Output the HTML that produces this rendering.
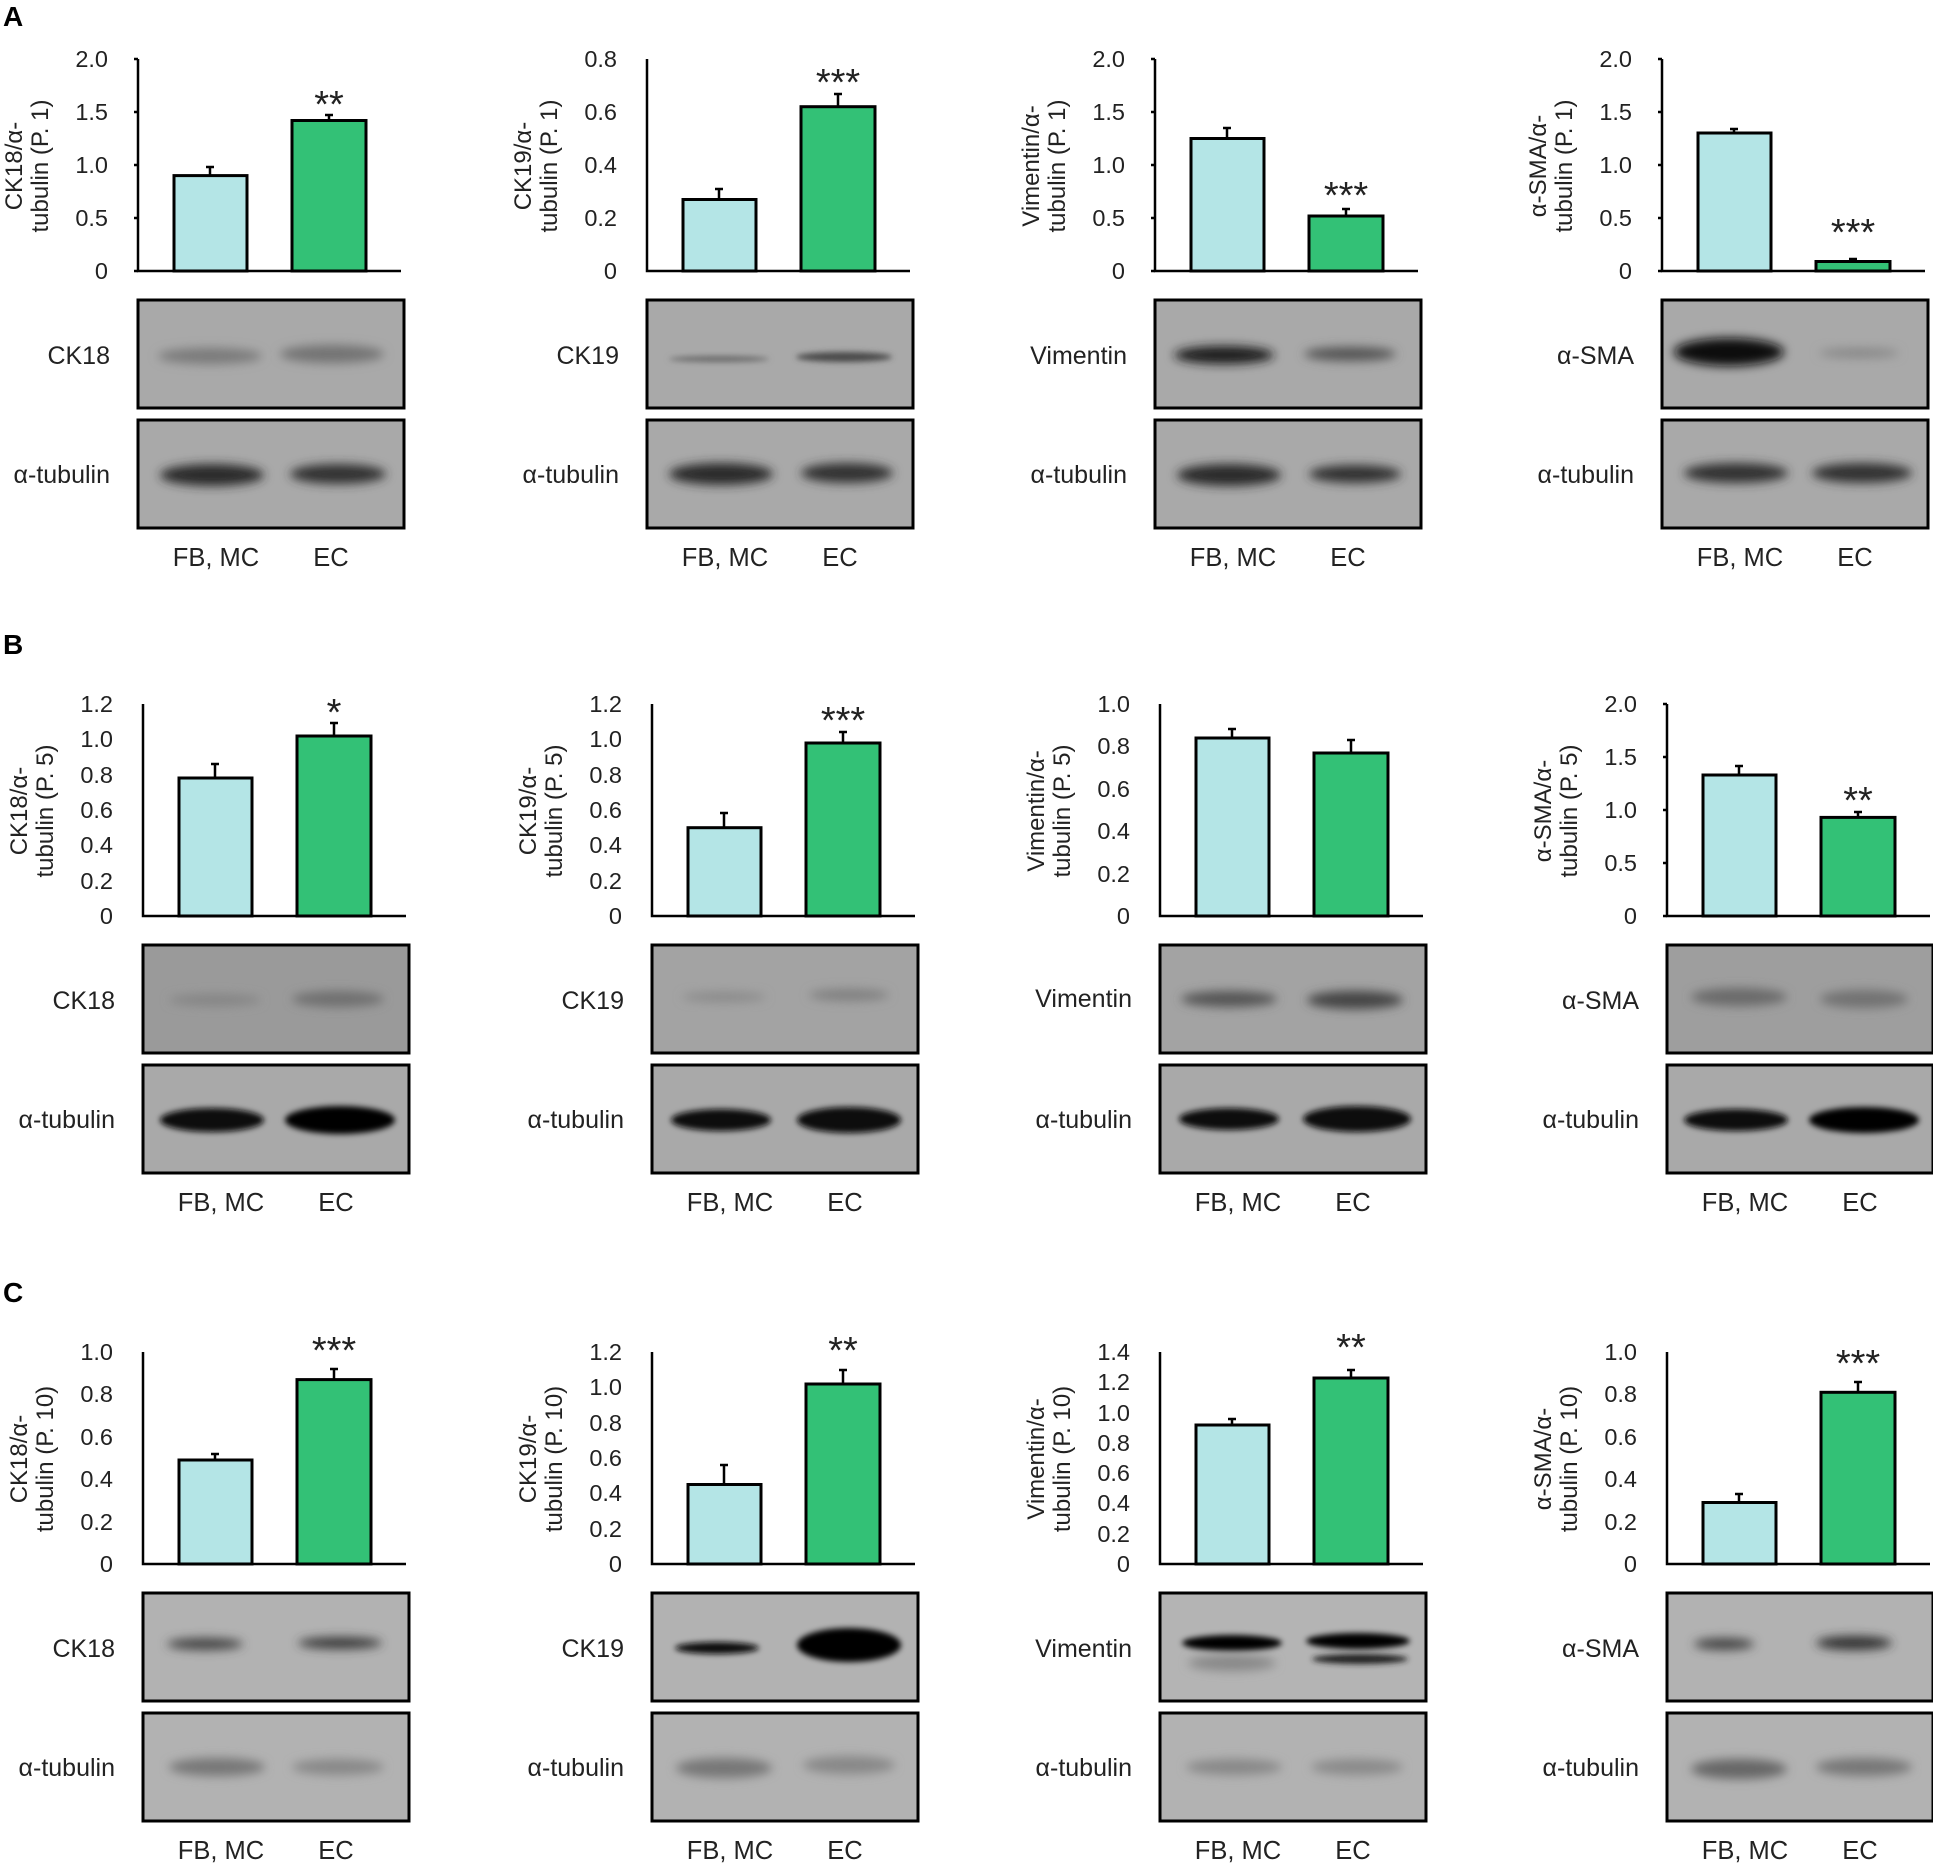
<!DOCTYPE html>
<html><head><meta charset="utf-8"><style>
html,body{margin:0;padding:0;background:#fff;}
svg{display:block;font-family:"Liberation Sans",Arial,sans-serif;}
.tk{font-size:23.5px;text-anchor:end;fill:#222}
.yt{font-size:24px;text-anchor:middle;fill:#222}
.lb{font-size:25px;text-anchor:end;fill:#222}
.xl{font-size:25.5px;text-anchor:middle;fill:#222}
.st{font-size:38px;text-anchor:middle;fill:#222}
.ax{stroke:#000;stroke-width:2.5;fill:none}
.b1{fill:#b4e5e6;stroke:#000;stroke-width:3}
.b2{fill:#33c176;stroke:#000;stroke-width:3}
.eb{stroke:#000;stroke-width:2.5}
.bl{stroke:#000;stroke-width:3}
.let{font-size:28px;font-weight:bold;fill:#000}
</style></head><body>
<svg width="1933" height="1863" viewBox="0 0 1933 1863" xmlns="http://www.w3.org/2000/svg">
<defs>
<filter id="bf" x="-20%" y="-100%" width="140%" height="300%"><feGaussianBlur stdDeviation="5"/></filter>
<filter id="bf2" x="-20%" y="-100%" width="140%" height="300%"><feGaussianBlur stdDeviation="3"/></filter>
<g id="frame">
<path class="ax" d="M138,59 V271 H401"/>
<text class="xl" x="216" y="566">FB, MC</text>
<text class="xl" x="331" y="566">EC</text>
<text class="lb" x="110" y="483">α-tubulin</text>
</g>
<g id="t2"><path class="eb" d="M134,271H138M134,218H138M134,165H138M134,112H138M134,59H138"/>
<text class="tk" x="108" y="279">0</text><text class="tk" x="108" y="226">0.5</text><text class="tk" x="108" y="173">1.0</text><text class="tk" x="108" y="120">1.5</text><text class="tk" x="108" y="67">2.0</text></g>
<g id="t08"><text class="tk" x="108" y="279">0</text><text class="tk" x="108" y="226">0.2</text><text class="tk" x="108" y="173">0.4</text><text class="tk" x="108" y="120">0.6</text><text class="tk" x="108" y="67">0.8</text></g>
<g id="t12"><text class="tk" x="108" y="279">0</text><text class="tk" x="108" y="244">0.2</text><text class="tk" x="108" y="208">0.4</text><text class="tk" x="108" y="173">0.6</text><text class="tk" x="108" y="138">0.8</text><text class="tk" x="108" y="102">1.0</text><text class="tk" x="108" y="67">1.2</text></g>
<g id="t10"><text class="tk" x="108" y="279">0</text><text class="tk" x="108" y="237">0.2</text><text class="tk" x="108" y="194">0.4</text><text class="tk" x="108" y="152">0.6</text><text class="tk" x="108" y="109">0.8</text><text class="tk" x="108" y="67">1.0</text></g>
<g id="t14"><text class="tk" x="108" y="279">0</text><text class="tk" x="108" y="249">0.2</text><text class="tk" x="108" y="218">0.4</text><text class="tk" x="108" y="188">0.6</text><text class="tk" x="108" y="158">0.8</text><text class="tk" x="108" y="128">1.0</text><text class="tk" x="108" y="97">1.2</text><text class="tk" x="108" y="67">1.4</text></g>
</defs>
<text class="let" x="3" y="26">A</text>
<text class="let" x="3" y="654">B</text>
<text class="let" x="3" y="1302">C</text>

<!-- ROW A -->
<g transform="translate(0,0)">
<use href="#frame"/><use href="#t2"/>
<g transform="translate(38,166) rotate(-90)"><text class="yt" y="-16">CK18/α-</text><text class="yt" y="10">tubulin (P. 1)</text></g>
<path class="eb" d="M210,176V167M206,167H214M329,121V115M325,115H333"/>
<rect class="b1" x="174" y="175.6" width="73" height="95.4"/><rect class="b2" x="292" y="120.5" width="74" height="150.5"/>
<text class="st" x="329" y="117">**</text>
<rect class="bl" x="138" y="300" width="266" height="108" fill="#a9a9a9"/>
<ellipse cx="210" cy="356" rx="52" ry="8" fill="#7a7a7a" filter="url(#bf)"/><ellipse cx="332" cy="354" rx="52" ry="9" fill="#737373" filter="url(#bf)"/>
<rect class="bl" x="138" y="420" width="266" height="108" fill="#a9a9a9"/>
<ellipse cx="212" cy="475" rx="52" ry="11" fill="#2a2a2a" filter="url(#bf)"/><ellipse cx="338" cy="474" rx="48" ry="10" fill="#333" filter="url(#bf)"/>
<text class="lb" x="110" y="364">CK18</text>
</g>
<g transform="translate(509,0)">
<use href="#frame"/><use href="#t08"/>
<g transform="translate(38,166) rotate(-90)"><text class="yt" y="-16">CK19/α-</text><text class="yt" y="10">tubulin (P. 1)</text></g>
<path class="eb" d="M210,199V189M206,189H214M329,107V94M325,94H333"/>
<rect class="b1" x="174" y="199.5" width="73" height="71.5"/><rect class="b2" x="292" y="106.7" width="74" height="164.3"/>
<text class="st" x="329" y="95">***</text>
<rect class="bl" x="138" y="300" width="266" height="108" fill="#a9a9a9"/>
<ellipse cx="210" cy="359" rx="50" ry="3" fill="#6a6a6a" filter="url(#bf2)"/><ellipse cx="335" cy="357" rx="48" ry="5" fill="#4a4a4a" filter="url(#bf2)"/>
<rect class="bl" x="138" y="420" width="266" height="108" fill="#a9a9a9"/>
<ellipse cx="212" cy="474" rx="52" ry="11" fill="#2a2a2a" filter="url(#bf)"/><ellipse cx="338" cy="473" rx="46" ry="10" fill="#333" filter="url(#bf)"/>
<text class="lb" x="110" y="364">CK19</text>
</g>
<g transform="translate(1017,0)">
<use href="#frame"/><use href="#t2"/>
<g transform="translate(38,166) rotate(-90)"><text class="yt" y="-16">Vimentin/α-</text><text class="yt" y="10">tubulin (P. 1)</text></g>
<path class="eb" d="M210,139V128M206,128H214M329,216V209M325,209H333"/>
<rect class="b1" x="174" y="138.5" width="73" height="132.5"/><rect class="b2" x="292" y="216" width="74" height="55"/>
<text class="st" x="329" y="208">***</text>
<rect class="bl" x="138" y="300" width="266" height="108" fill="#a9a9a9"/>
<ellipse cx="207" cy="355" rx="50" ry="9" fill="#1e1e1e" filter="url(#bf)"/><ellipse cx="333" cy="354" rx="46" ry="7" fill="#555" filter="url(#bf)"/>
<rect class="bl" x="138" y="420" width="266" height="108" fill="#a9a9a9"/>
<ellipse cx="212" cy="475" rx="52" ry="11" fill="#2a2a2a" filter="url(#bf)"/><ellipse cx="338" cy="474" rx="46" ry="9" fill="#333" filter="url(#bf)"/>
<text class="lb" x="110" y="364">Vimentin</text>
</g>
<g transform="translate(1524,0)">
<use href="#frame"/><use href="#t2"/>
<g transform="translate(38,166) rotate(-90)"><text class="yt" y="-16">α-SMA/α-</text><text class="yt" y="10">tubulin (P. 1)</text></g>
<path class="eb" d="M210,133V129M206,129H214M329,262V259M325,259H333"/>
<rect class="b1" x="174" y="133" width="73" height="138"/><rect class="b2" x="292" y="261.5" width="74" height="9.5"/>
<text class="st" x="329" y="245">***</text>
<rect class="bl" x="138" y="300" width="266" height="108" fill="#a9a9a9"/>
<ellipse cx="205" cy="352" rx="55" ry="14" fill="#111" filter="url(#bf)"/><ellipse cx="335" cy="353" rx="40" ry="5" fill="#888" filter="url(#bf)"/>
<rect class="bl" x="138" y="420" width="266" height="108" fill="#a9a9a9"/>
<ellipse cx="212" cy="473" rx="52" ry="10" fill="#333" filter="url(#bf)"/><ellipse cx="338" cy="473" rx="50" ry="10" fill="#333" filter="url(#bf)"/>
<text class="lb" x="110" y="364">α-SMA</text>
</g>

<!-- ROW B -->
<g transform="translate(5,645)">
<use href="#frame"/><use href="#t12"/>
<g transform="translate(38,166) rotate(-90)"><text class="yt" y="-16">CK18/α-</text><text class="yt" y="10">tubulin (P. 5)</text></g>
<path class="eb" d="M210,133V119M206,119H214M329,91V78M325,78H333"/>
<rect class="b1" x="174" y="133" width="73" height="138"/><rect class="b2" x="292" y="91" width="74" height="180"/>
<text class="st" x="329" y="80">*</text>
<rect class="bl" x="138" y="300" width="266" height="108" fill="#9a9a9a"/>
<ellipse cx="210" cy="355" rx="46" ry="6" fill="#858585" filter="url(#bf)"/><ellipse cx="333" cy="354" rx="46" ry="8" fill="#707070" filter="url(#bf)"/>
<rect class="bl" x="138" y="420" width="266" height="108" fill="#a9a9a9"/>
<ellipse cx="207" cy="475" rx="52" ry="12" fill="#080808" filter="url(#bf2)"/><ellipse cx="335" cy="475" rx="55" ry="14" fill="#050505" filter="url(#bf2)"/>
<text class="lb" x="110" y="364">CK18</text>
</g>
<g transform="translate(514,645)">
<use href="#frame"/><use href="#t12"/>
<g transform="translate(38,166) rotate(-90)"><text class="yt" y="-16">CK19/α-</text><text class="yt" y="10">tubulin (P. 5)</text></g>
<path class="eb" d="M210,183V168M206,168H214M329,98V87M325,87H333"/>
<rect class="b1" x="174" y="182.7" width="73" height="88.3"/><rect class="b2" x="292" y="98" width="74" height="173"/>
<text class="st" x="329" y="88">***</text>
<rect class="bl" x="138" y="300" width="266" height="108" fill="#a3a3a3"/>
<ellipse cx="210" cy="352" rx="42" ry="5" fill="#8a8a8a" filter="url(#bf)"/><ellipse cx="335" cy="350" rx="40" ry="6" fill="#808080" filter="url(#bf)"/>
<rect class="bl" x="138" y="420" width="266" height="108" fill="#a9a9a9"/>
<ellipse cx="207" cy="475" rx="50" ry="11" fill="#0d0d0d" filter="url(#bf2)"/><ellipse cx="335" cy="475" rx="52" ry="13" fill="#080808" filter="url(#bf2)"/>
<text class="lb" x="110" y="364">CK19</text>
</g>
<g transform="translate(1022,645)">
<use href="#frame"/><use href="#t10"/>
<g transform="translate(38,166) rotate(-90)"><text class="yt" y="-16">Vimentin/α-</text><text class="yt" y="10">tubulin (P. 5)</text></g>
<path class="eb" d="M210,93V84M206,84H214M329,108V95M325,95H333"/>
<rect class="b1" x="174" y="93" width="73" height="178"/><rect class="b2" x="292" y="108" width="74" height="163"/>
<rect class="bl" x="138" y="300" width="266" height="108" fill="#a3a3a3"/>
<ellipse cx="207" cy="354" rx="48" ry="8" fill="#555" filter="url(#bf)"/><ellipse cx="333" cy="355" rx="48" ry="9" fill="#444" filter="url(#bf)"/>
<rect class="bl" x="138" y="420" width="266" height="108" fill="#a9a9a9"/>
<ellipse cx="207" cy="474" rx="50" ry="11" fill="#0d0d0d" filter="url(#bf2)"/><ellipse cx="335" cy="474" rx="54" ry="13" fill="#080808" filter="url(#bf2)"/>
<text class="lb" x="110" y="362">Vimentin</text>
</g>
<g transform="translate(1529,645)">
<use href="#frame"/><use href="#t2"/>
<g transform="translate(38,166) rotate(-90)"><text class="yt" y="-16">α-SMA/α-</text><text class="yt" y="10">tubulin (P. 5)</text></g>
<path class="eb" d="M210,130V121M206,121H214M329,172V167M325,167H333"/>
<rect class="b1" x="174" y="130" width="73" height="141"/><rect class="b2" x="292" y="172.4" width="74" height="98.6"/>
<text class="st" x="329" y="168">**</text>
<rect class="bl" x="138" y="300" width="266" height="108" fill="#9e9e9e"/>
<ellipse cx="210" cy="352" rx="48" ry="9" fill="#6a6a6a" filter="url(#bf)"/><ellipse cx="335" cy="354" rx="44" ry="9" fill="#727272" filter="url(#bf)"/>
<rect class="bl" x="138" y="420" width="266" height="108" fill="#a9a9a9"/>
<ellipse cx="207" cy="475" rx="52" ry="11" fill="#0d0d0d" filter="url(#bf2)"/><ellipse cx="335" cy="475" rx="55" ry="13" fill="#050505" filter="url(#bf2)"/>
<text class="lb" x="110" y="364">α-SMA</text>
</g>

<!-- ROW C -->
<g transform="translate(5,1293)">
<use href="#frame"/><use href="#t10"/>
<g transform="translate(38,166) rotate(-90)"><text class="yt" y="-16">CK18/α-</text><text class="yt" y="10">tubulin (P. 10)</text></g>
<path class="eb" d="M210,167V161M206,161H214M329,87V76M325,76H333"/>
<rect class="b1" x="174" y="167" width="73" height="104"/><rect class="b2" x="292" y="86.6" width="74" height="184.4"/>
<text class="st" x="329" y="70">***</text>
<rect class="bl" x="138" y="300" width="266" height="108" fill="#b2b2b2"/>
<ellipse cx="200" cy="351" rx="38" ry="6" fill="#444" filter="url(#bf)"/><ellipse cx="335" cy="350" rx="42" ry="6" fill="#3a3a3a" filter="url(#bf)"/>
<rect class="bl" x="138" y="420" width="266" height="108" fill="#b2b2b2"/>
<ellipse cx="212" cy="474" rx="48" ry="9" fill="#777" filter="url(#bf)"/><ellipse cx="333" cy="474" rx="46" ry="8" fill="#888" filter="url(#bf)"/>
<text class="lb" x="110" y="364">CK18</text>
</g>
<g transform="translate(514,1293)">
<use href="#frame"/><use href="#t12"/>
<g transform="translate(38,166) rotate(-90)"><text class="yt" y="-16">CK19/α-</text><text class="yt" y="10">tubulin (P. 10)</text></g>
<path class="eb" d="M210,192V172M206,172H214M329,91V77M325,77H333"/>
<rect class="b1" x="174" y="191.5" width="73" height="79.5"/><rect class="b2" x="292" y="91" width="74" height="180"/>
<text class="st" x="329" y="70">**</text>
<rect class="bl" x="138" y="300" width="266" height="108" fill="#b2b2b2"/>
<ellipse cx="203" cy="355" rx="42" ry="6" fill="#111" filter="url(#bf2)"/><ellipse cx="335" cy="352" rx="52" ry="17" fill="#050505" filter="url(#bf2)"/>
<rect class="bl" x="138" y="420" width="266" height="108" fill="#b2b2b2"/>
<ellipse cx="210" cy="475" rx="48" ry="10" fill="#777" filter="url(#bf)"/><ellipse cx="335" cy="472" rx="46" ry="9" fill="#888" filter="url(#bf)"/>
<text class="lb" x="110" y="364">CK19</text>
</g>
<g transform="translate(1022,1293)">
<use href="#frame"/><use href="#t14"/>
<g transform="translate(38,166) rotate(-90)"><text class="yt" y="-16">Vimentin/α-</text><text class="yt" y="10">tubulin (P. 10)</text></g>
<path class="eb" d="M210,132V126M206,126H214M329,85V77M325,77H333"/>
<rect class="b1" x="174" y="132" width="73" height="139"/><rect class="b2" x="292" y="85" width="74" height="186"/>
<text class="st" x="329" y="67">**</text>
<rect class="bl" x="138" y="300" width="266" height="108" fill="#b4b4b4"/>
<ellipse cx="210" cy="350" rx="50" ry="8" fill="#050505" filter="url(#bf2)"/><ellipse cx="336" cy="348" rx="52" ry="8" fill="#050505" filter="url(#bf2)"/>
<ellipse cx="338" cy="366" rx="48" ry="5" fill="#222" filter="url(#bf2)"/><ellipse cx="210" cy="370" rx="44" ry="8" fill="#888" filter="url(#bf)"/>
<rect class="bl" x="138" y="420" width="266" height="108" fill="#b2b2b2"/>
<ellipse cx="212" cy="474" rx="48" ry="8" fill="#888" filter="url(#bf)"/><ellipse cx="335" cy="474" rx="46" ry="8" fill="#8a8a8a" filter="url(#bf)"/>
<text class="lb" x="110" y="364">Vimentin</text>
</g>
<g transform="translate(1529,1293)">
<use href="#frame"/><use href="#t10"/>
<g transform="translate(38,166) rotate(-90)"><text class="yt" y="-16">α-SMA/α-</text><text class="yt" y="10">tubulin (P. 10)</text></g>
<path class="eb" d="M210,210V201M206,201H214M329,99V89M325,89H333"/>
<rect class="b1" x="174" y="209.5" width="73" height="61.5"/><rect class="b2" x="292" y="99.3" width="74" height="171.7"/>
<text class="st" x="329" y="83">***</text>
<rect class="bl" x="138" y="300" width="266" height="108" fill="#b2b2b2"/>
<ellipse cx="195" cy="351" rx="30" ry="6" fill="#444" filter="url(#bf)"/><ellipse cx="325" cy="350" rx="38" ry="7" fill="#333" filter="url(#bf)"/>
<rect class="bl" x="138" y="420" width="266" height="108" fill="#b2b2b2"/>
<ellipse cx="210" cy="476" rx="48" ry="10" fill="#666" filter="url(#bf)"/><ellipse cx="335" cy="474" rx="48" ry="9" fill="#777" filter="url(#bf)"/>
<text class="lb" x="110" y="364">α-SMA</text>
</g>
</svg>
</body></html>
